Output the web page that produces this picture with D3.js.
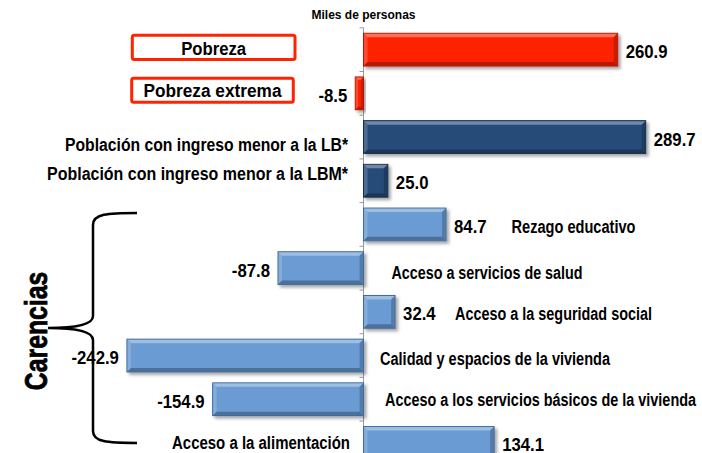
<!DOCTYPE html>
<html><head><meta charset="utf-8">
<script src="https://cdn.jsdelivr.net/npm/d3@7/dist/d3.min.js"></script>
<style>body{margin:0;background:#fff} svg{display:block}</style>
</head><body>
<svg id="c" width="702" height="453"></svg>
<script>
// ---------- data ----------
const categories = [
  "Pobreza",
  "Pobreza extrema",
  "Población con ingreso menor a la LB*",
  "Población con ingreso menor a la LBM*",
  "Rezago educativo",
  "Acceso a servicios de salud",
  "Acceso a la seguridad social",
  "Calidad y espacios de la vivienda",
  "Acceso a los servicios básicos de la vivienda",
  "Acceso a la alimentación"
];
const values = [260.9, -8.5, 289.7, 25.0, 84.7, -87.8, 32.4, -242.9, -154.9, 134.1];
const groups = ["pobreza","pobreza","ingreso","ingreso","carencia","carencia","carencia","carencia","carencia","carencia"];
const unitLabel = "Miles de personas";
const groupLabel = "Carencias";

// ---------- styles ----------
const palette = {
  pobreza:  {fill:"#FF2300", edge:"#B51A00"},
  ingreso:  {fill:"#264B79", edge:"#16304F"},
  carencia: {fill:"#6A9BD3", edge:"#3E6B9E"}
};
const FONT = "'Liberation Sans',Arial,sans-serif";

const svg = d3.select("#c");
const x = d3.scaleLinear().domain([-250, 290]).range([120, 646]);
const y = d3.scaleBand().domain(categories).range([27.8, 464.8]).paddingInner(0.25).paddingOuter(0.125);
const x0 = x(0);
const bw = y.bandwidth();
const cy = c => y(c) + bw / 2;

function label(px, py, str, o) {
  o = Object.assign({size:17.5, sx:1, anchor:"start"}, o || {});
  const t = svg.append("text")
    .attr("transform", `translate(${px},${py}) scale(${o.sx},1)`)
    .attr("dy","0.36em")
    .attr("text-anchor", o.anchor)
    .attr("font-family", FONT).attr("font-weight","bold")
    .attr("font-size", o.size).attr("fill","#000")
    .text(str);
  if (o.w) t.attr("textLength", o.w).attr("lengthAdjust","spacingAndGlyphs");
  return t;
}

const defs = svg.append("defs");
const f = defs.append("filter").attr("id","sh").attr("x","-10%").attr("y","-20%").attr("width","130%").attr("height","160%");
f.append("feDropShadow").attr("dx",2.5).attr("dy",2.5).attr("stdDeviation",1.4)
  .attr("flood-color","#000").attr("flood-opacity",0.35);

// axis line with ticks at band boundaries
const r = y.range();
svg.append("line").attr("x1",x0).attr("x2",x0).attr("y1",r[0]).attr("y2",r[1])
  .attr("stroke","#9a9a9a").attr("stroke-width",1);
d3.range(categories.length + 1).forEach(i => {
  const ty = r[0] + i * y.step();
  svg.append("line").attr("x1",x0-4).attr("x2",x0).attr("y1",ty).attr("y2",ty)
    .attr("stroke","#9a9a9a").attr("stroke-width",1);
});

// bars
const data = categories.map((c,i)=>({c, v:values[i], g:groups[i]}));
const bars = svg.append("g").selectAll("g").data(data).join("g");
bars.each(function(d){
  const g = d3.select(this);
  const bx = Math.min(x(0), x(d.v)), w = Math.abs(x(d.v) - x(0)), by = y(d.c), h = bw;
  const p = palette[d.g];
  g.append("rect").attr("x",bx).attr("y",by).attr("width",w).attr("height",h)
    .attr("fill",p.fill).attr("stroke",p.edge).attr("stroke-width",1).attr("filter","url(#sh)");
  const b = Math.min(4, w/3);
  g.append("path").attr("d",`M${bx+0.5},${by+0.5}H${bx+w-0.5}L${bx+w-b},${by+b}H${bx+b}Z`)
    .attr("fill","#fff").attr("opacity",0.35);
  g.append("path").attr("d",`M${bx+0.5},${by+0.5}L${bx+b},${by+b}V${by+h-b}L${bx+0.5},${by+h-0.5}Z`)
    .attr("fill","#fff").attr("opacity",0.18);
  g.append("path").attr("d",`M${bx+0.5},${by+h-0.5}H${bx+w-0.5}L${bx+w-b},${by+h-b}H${bx+b}Z`)
    .attr("fill","#000").attr("opacity",0.28);
  g.append("path").attr("d",`M${bx+w-0.5},${by+0.5}L${bx+w-b},${by+b}V${by+h-b}L${bx+w-0.5},${by+h-0.5}Z`)
    .attr("fill","#000").attr("opacity",0.2);
});

// value labels
data.forEach(d => {
  label(d.v >= 0 ? x(d.v) + 8 : x(d.v) - 8, cy(d.c) + 2, d.v.toFixed(1),
        {anchor: d.v >= 0 ? "start" : "end", sx:0.93, size:18});
});

// category labels (annotation layout: anchor offset from zero line, vertical shift, rendered width)
const layout = [
  {box:true, bx:132.3, bw:162.7, btop:-14.5, bh:24.3, dy:-1.3, w:65},
  {box:true, bx:131.7, bw:161.6, btop:-15,   bh:24,   dy:-2.5, w:138},
  {anchor:"end",   dx:-15.5, dy:7.5, w:283},
  {anchor:"end",   dx:-15.5, dy:-7,  w:301},
  {anchor:"start", dx:148,   dy:2,   w:124},
  {anchor:"start", dx:28,    dy:4.5, w:191},
  {anchor:"start", dx:91.5,  dy:2,   w:197},
  {anchor:"start", dx:16.5,  dy:3,   w:230},
  {anchor:"start", dx:21.5,  dy:0.5, w:311},
  {anchor:"end",   dx:-13.5, dy:0,   w:178}
];
categories.forEach((c,i)=>{
  const L = layout[i];
  if (L.box) {
    svg.append("rect").attr("x",L.bx).attr("y",cy(c)+L.btop).attr("width",L.bw).attr("height",L.bh)
      .attr("rx",2).attr("fill","#fff").attr("stroke","#FF2300").attr("stroke-width",3);
    label(L.bx + L.bw/2, cy(c) + L.dy, c, {anchor:"middle", w:L.w});
  } else {
    label(x0 + L.dx, cy(c) + L.dy, c, {anchor:L.anchor, w:L.w});
  }
});

// unit label
label(x0, 14.5, unitLabel, {anchor:"middle", size:12.5, w:104});

// brace for carencias
const carFirst = categories[4], carLast = categories[categories.length-1];
const yt = cy(carFirst) - 11.5, yb = cy(carLast), ym = (yt + yb) / 2;
const bxR = 137, bxV = 93, bxT = 48;
svg.append("path")
  .attr("d",`M${bxR},${yt} C${bxV+14},${yt} ${bxV},${yt+1} ${bxV},${yt+12}
    L${bxV},${ym-12} C${bxV},${ym-3} ${bxT+25},${ym} ${bxT},${ym}
    C${bxT+25},${ym} ${bxV},${ym+3} ${bxV},${ym+12}
    L${bxV},${yb-12} C${bxV},${yb-1} ${bxV+14},${yb} ${bxR},${yb}`)
  .attr("fill","none").attr("stroke","#000").attr("stroke-width",2.5);

svg.append("text")
  .attr("transform",`translate(47,${ym+3}) rotate(-90) scale(0.8,1)`)
  .attr("text-anchor","middle")
  .attr("font-family",FONT).attr("font-weight","bold")
  .attr("stroke","#000").attr("stroke-width",0.8)
  .attr("font-size",31).text(groupLabel);
</script>
</body></html>
